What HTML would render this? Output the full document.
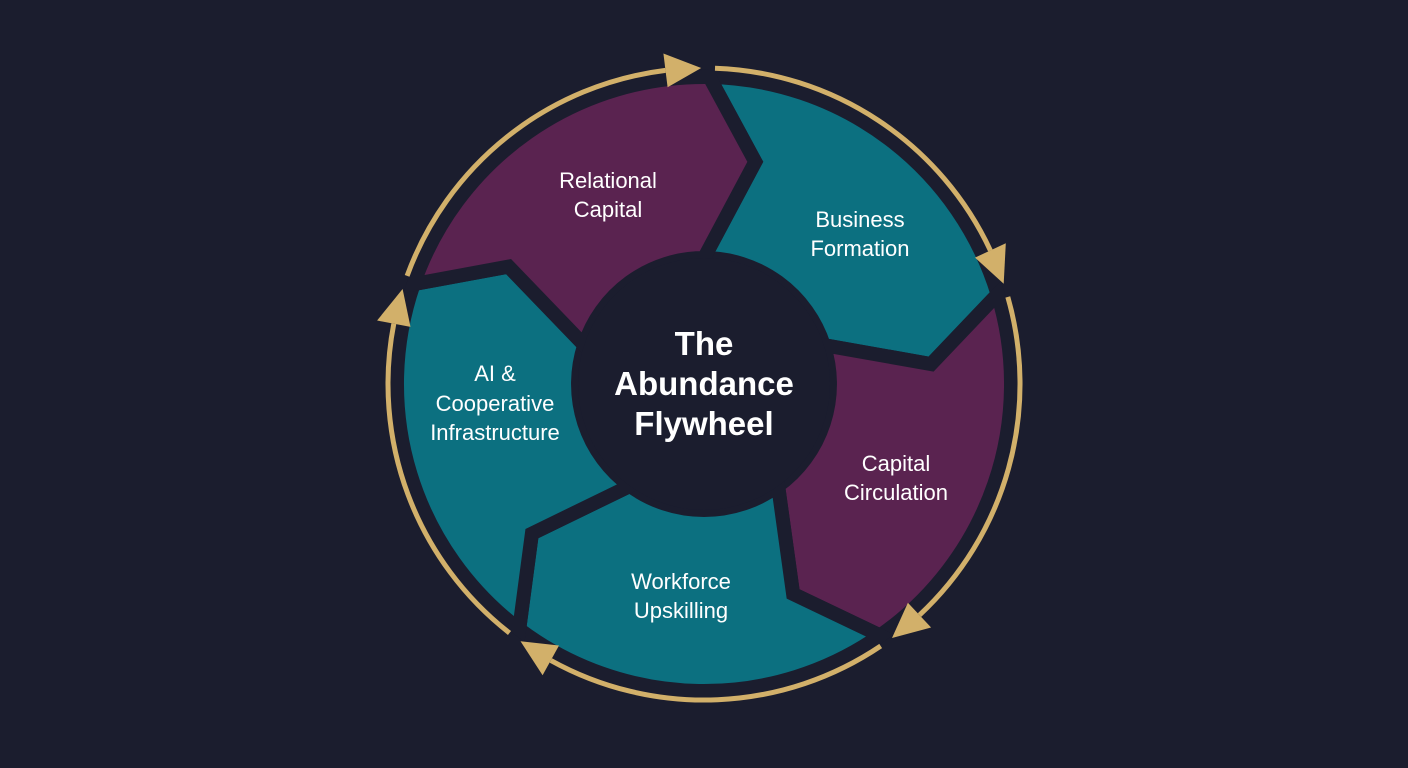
<!DOCTYPE html>
<html><head><meta charset="utf-8">
<style>
html,body{margin:0;padding:0;background:#1b1d2e;}
body{width:1408px;height:768px;overflow:hidden;}
svg{display:block}
text{font-family:"Liberation Sans",sans-serif;fill:#fff;text-anchor:middle;}
</style></head>
<body>
<svg id="s" width="1408" height="768" viewBox="0 0 1408 768">
<rect width="1408" height="768" fill="#1b1d2e"/>
<g id="segs"></g>
<g id="ring"></g>
<circle cx="704" cy="384" r="126" fill="#1b1d2e"/>
<g font-size="22">
<text x="608" y="188">Relational</text><text x="608" y="217">Capital</text>
<text x="860" y="227">Business</text><text x="860" y="256">Formation</text>
<text x="896" y="471">Capital</text><text x="896" y="500">Circulation</text>
<text x="681" y="589">Workforce</text><text x="681" y="618">Upskilling</text>
<text x="495" y="381">AI &amp;</text><text x="495" y="411">Cooperative</text><text x="495" y="440">Infrastructure</text>
</g>
<g font-size="33" font-weight="bold">
<text x="704" y="355">The</text><text x="704" y="395">Abundance</text><text x="704" y="435">Flywheel</text>
</g>
</svg>
<script>
var cx=704,cy=384,NS="http://www.w3.org/2000/svg";
function P(a,r){var t=a*Math.PI/180;return [cx+r*Math.sin(t),cy-r*Math.cos(t)];}
function f(p){return p[0].toFixed(1)+","+p[1].toFixed(1);}
var b=[1,73,145,217,289],cols=["#0c7080","#5a2350","#0c7080","#0c7080","#5a2350"];
var RO=307,RT=228,RI=126,segs=document.getElementById("segs");
for(var k=0;k<5;k++){
 var a=b[k],c=a+72;
 var d="M"+f(P(a,RO))+" A"+RO+","+RO+" 0 0 1 "+f(P(c,RO))+
   " L"+f(P(c+12,RT))+" L"+f(P(c-1,RI))+
   " A"+RI+","+RI+" 0 0 0 "+f(P(a-1,RI))+
   " L"+f(P(a+12,RT))+" Z";
 var e=document.createElementNS(NS,"path");
 e.setAttribute("d",d);e.setAttribute("fill",cols[k]);
 e.setAttribute("stroke","#1b1d2e");e.setAttribute("stroke-width","14");e.setAttribute("stroke-linejoin","miter");
 segs.appendChild(e);
}
var ring=document.getElementById("ring"),R=316,G="#d2b06a";
for(var k=0;k<5;k++){
 var s=b[k]+1,t=b[k]+72-8;
 var e=document.createElementNS(NS,"path");
 e.setAttribute("d","M"+f(P(s,R))+" A"+R+","+R+" 0 0 1 "+f(P(t,R)));
 e.setAttribute("fill","none");e.setAttribute("stroke",G);e.setAttribute("stroke-width","5");
 ring.appendChild(e);
 // arrowhead
 var tip=b[k]+72-1.5, base=t;
 var pt=P(tip,R),bc=P(base,R);
 var th=base*Math.PI/180,nx=Math.sin(th),ny=-Math.cos(th);
 var p1=[bc[0]+nx*17,bc[1]+ny*17],p2=[bc[0]-nx*17,bc[1]-ny*17];
 var h=document.createElementNS(NS,"polygon");
 h.setAttribute("points",f(pt)+" "+f(p1)+" "+f(p2));h.setAttribute("fill",G);
 ring.appendChild(h);
}
</script>
</body></html>
